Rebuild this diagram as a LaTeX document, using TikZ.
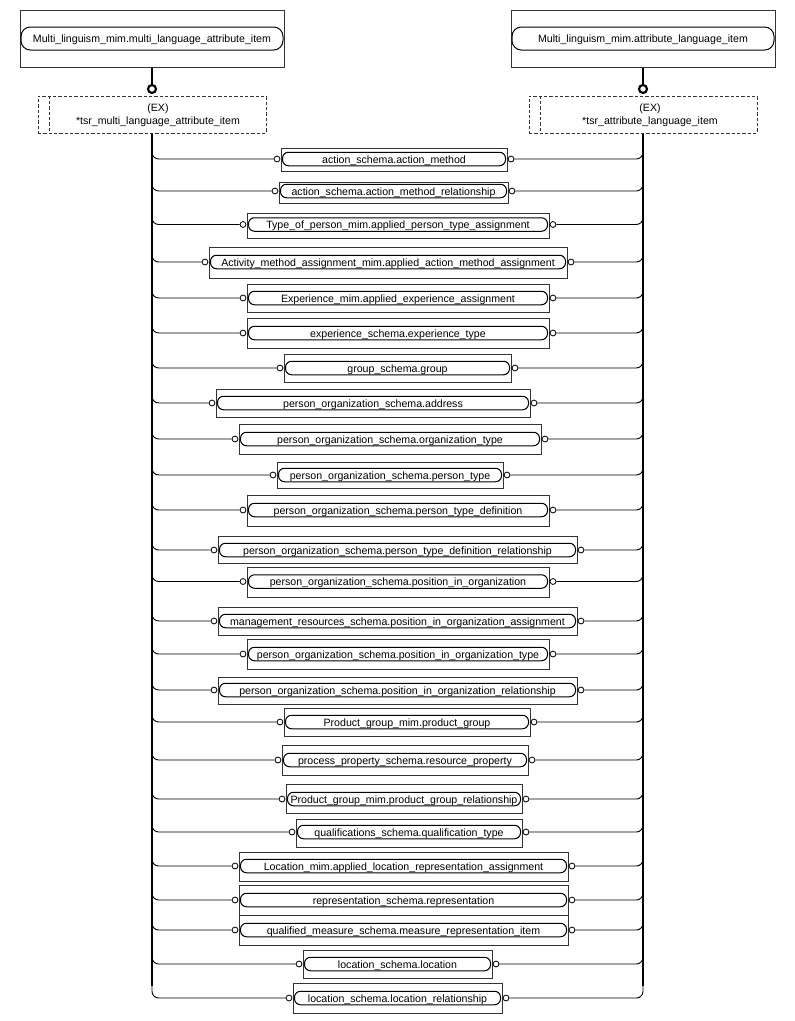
\documentclass[tikz,border=0pt]{standalone}
\usepackage{fontspec}
\setmainfont{Liberation Sans}
\tikzset{
  ebox/.style={draw=black!80, line width=0.75pt, inner sep=0pt, fill=white},
  pill/.style={draw=black, line width=0.75pt, rounded corners=4.5pt, inner sep=0pt,
    minimum height=13.5*0.75pt, text height=0.72em, text depth=0.12em,
    font=\fontsize{7.95}{9.5}\selectfont},
  circ/.style={circle, draw=black, line width=0.6pt, fill=white, inner sep=0pt, minimum size=4.4pt},
  branch/.style={draw=black, line width=0.7pt, rounded corners=5pt},
  vline/.style={line width=1.6pt},
  dbox/.style={draw=black!80, dash pattern=on 2.5pt off 1.5pt, line width=0.75pt, inner sep=0pt},
  bigc/.style={circle, draw, line width=1.6pt, fill=white, inner sep=0pt, minimum size=6pt},
  lbl/.style={font=\fontsize{7.95}{9.6}\selectfont, align=center, inner sep=0pt},
}
% box only: name, L, T, R, B
\newcommand\ebx[5]{%
  \node[ebox, minimum width={(#4-#2)*0.75pt}, minimum height={(#5-#3)*0.75pt}] (#1) at ({(#2+#4)/2},{(#3+#5)/2}) {};}
% pill + circles + branches: name, L, R, cy, text
\newcommand\pil[5]{%
  \node[pill, minimum width={(#3-#2-3)*0.75pt}] (#1) at ({(#2+#3)/2},#4) {#5};
  \node[circ] (#1l) at (#2-4,#4) {};
  \node[circ] (#1r) at (#3+4,#4) {};
  \coordinate (#1vl) at (152,#4-12);
  \coordinate (#1vr) at (643,#4-12);
  \draw[branch] (#1vl) |- (#1l.west);
  \draw[branch] (#1r.east) -| (#1vr);}
% full entity: name, L, T, R, B, cy, text
\newcommand\ent[7]{\ebx{#1box}{#2}{#3}{#4}{#5}\pil{#1}{#2}{#4}{#6}{#7}}
\begin{document}
\begin{tikzpicture}[x=0.75pt,y=-0.75pt]
\useasboundingbox (0,0) rectangle (794,1021);
% top boxes
\node[ebox, minimum width=264*0.75pt, minimum height=57*0.75pt] (tl) at (152,38.5) {};
\node[pill, minimum width=262*0.75pt, minimum height=23*0.75pt, rounded corners=7pt] (tlp) at (152,38.5) {Multi\_linguism\_mim.multi\_language\_attribute\_item};
\node[ebox, minimum width=264*0.75pt, minimum height=57*0.75pt] (tr) at (643,38.5) {};
\node[pill, minimum width=262*0.75pt, minimum height=23*0.75pt, rounded corners=7pt] (trp) at (643,38.5) {Multi\_linguism\_mim.attribute\_language\_item};
% dashed boxes
\node[dbox, minimum width=228*0.75pt, minimum height=37*0.75pt] (dl) at (152,114.5) {};
\draw[dbox] ([xshift=12*0.75pt]dl.north west) -- ([xshift=12*0.75pt]dl.south west);
\node[lbl] (dlt) at (158,115) {(EX)\\*tsr\_multi\_language\_attribute\_item};
\node[dbox, minimum width=228*0.75pt, minimum height=37*0.75pt] (dr) at (643,114.5) {};
\draw[dbox] ([xshift=12*0.75pt]dr.north west) -- ([xshift=12*0.75pt]dr.south west);
\node[lbl] (drt) at (650,115) {(EX)\\*tsr\_attribute\_language\_item};
% top connectors
\node[bigc] (cl) at (152,89) {};
\node[bigc] (cr) at (643,89) {};
\draw[line width=2pt] (tl.south) -- (cl.north);
\draw[line width=2pt] (tr.south) -- (cr.north);
% entities
\ent{am}{281}{148}{507}{171}{159}{action\_schema.action\_method}
\ent{amr}{279}{182}{508}{203}{191}{action\_schema.action\_method\_relationship}
\ent{tp}{247}{213}{549}{238}{224.5}{Type\_of\_person\_mim.applied\_person\_type\_assignment}
\ent{act}{209}{247}{567}{278}{262}{Activity\_method\_assignment\_mim.applied\_action\_method\_assignment}
\ent{exa}{247}{284}{549}{312}{298}{Experience\_mim.applied\_experience\_assignment}
\ent{ext}{247}{318}{549}{348}{333}{experience\_schema.experience\_type}
\ent{grp}{284}{354}{511}{382}{368}{group\_schema.group}
\ent{addr}{216}{389}{530}{417}{403}{person\_organization\_schema.address}
\ent{orgt}{239}{424}{541}{454}{439}{person\_organization\_schema.organization\_type}
\ent{pt}{277}{462}{503}{488}{475}{person\_organization\_schema.person\_type}
\ent{ptd}{247}{495}{549}{526}{510}{person\_organization\_schema.person\_type\_definition}
\ent{ptdr}{218}{536}{577}{563}{550}{person\_organization\_schema.person\_type\_definition\_relationship}
\ent{pio}{247}{567}{549}{597}{581.5}{person\_organization\_schema.position\_in\_organization}
\ent{pioa}{218}{607}{577}{635}{621}{management\_resources\_schema.position\_in\_organization\_assignment}
\ent{piot}{247}{639}{549}{669}{654}{person\_organization\_schema.position\_in\_organization\_type}
\ent{pior}{218}{677}{577}{704}{690}{person\_organization\_schema.position\_in\_organization\_relationship}
\ent{pg}{284}{708}{530}{736}{722}{Product\_group\_mim.product\_group}
\ent{rp}{282}{745}{528}{775}{760}{process\_property\_schema.resource\_property}
\ent{pgr}{286}{784}{522}{813}{799}{Product\_group\_mim.product\_group\_relationship}
\ent{qt}{296}{819}{522}{847}{832}{qualifications\_schema.qualification\_type}
\ent{lra}{239}{852}{568}{881}{866}{Location\_mim.applied\_location\_representation\_assignment}
\ebx{cb}{239}{885}{568}{945}
\draw[ebox] (cb.west) -- (cb.east);
\pil{rep}{239}{568}{900}{representation\_schema.representation}
\pil{mri}{239}{568}{930}{qualified\_measure\_schema.measure\_representation\_item}
\ent{loc}{303}{950}{492}{978}{964}{location\_schema.location}
\ent{locr}{293}{983}{502}{1013}{998}{location\_schema.location\_relationship}
% main vertical lines
\draw[vline] (dl.south) -- (locrvl);
\draw[vline] (dr.south) -- (locrvr);
\end{tikzpicture}
\end{document}
